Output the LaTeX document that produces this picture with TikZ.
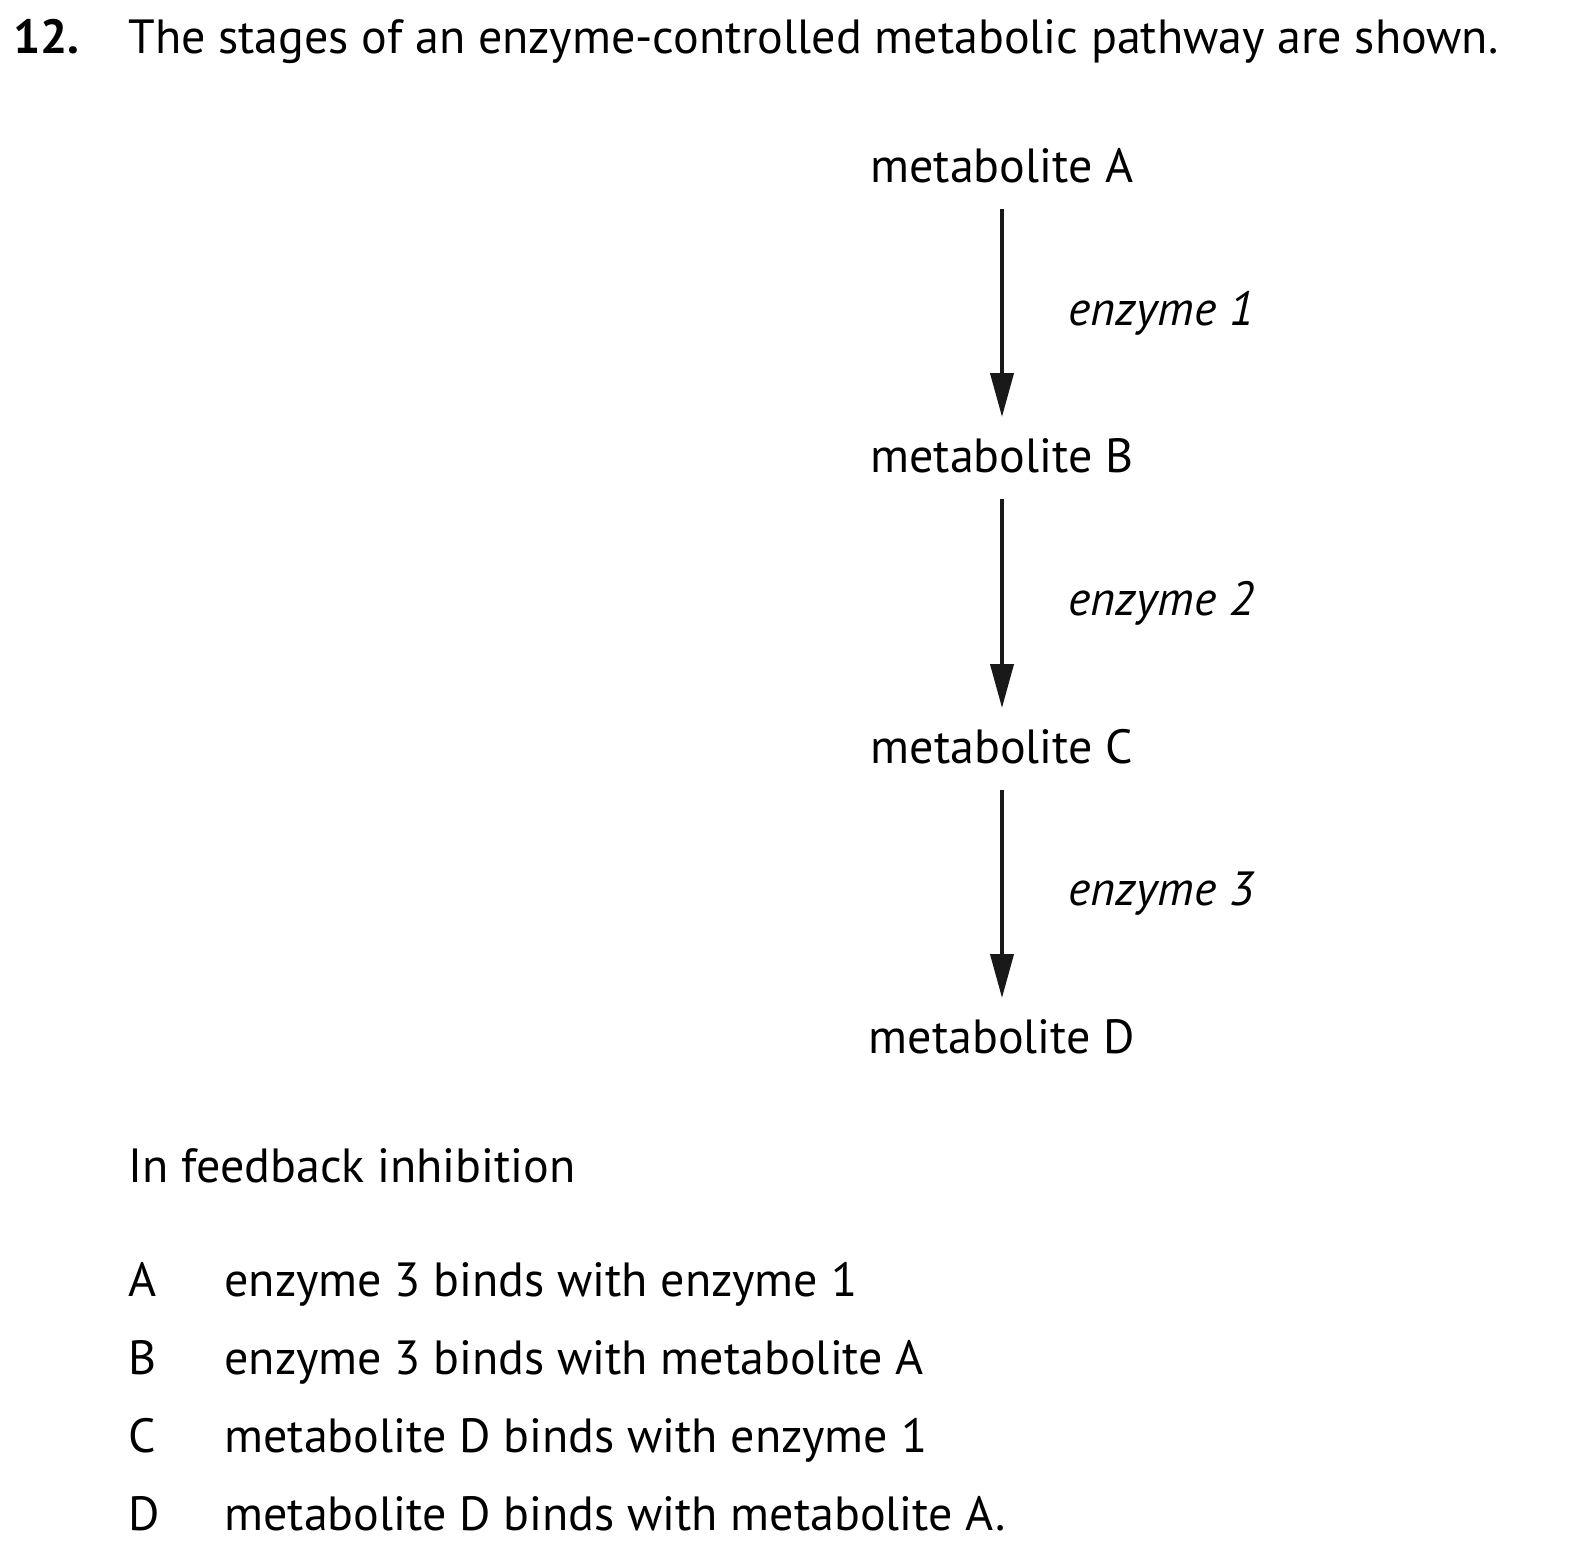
\documentclass[tikz,border=0pt]{standalone}
\usepackage{fontspec}
\setmainfont{PT Sans}
\usetikzlibrary{arrows.meta}
\begin{document}
\begin{tikzpicture}[x=0.5pt, y=-0.5pt, font=\fontsize{24}{28}\selectfont,
  every node/.style={inner sep=0pt, anchor=base west},
  metab/.style={anchor=base},
  step arrow/.style={-{Triangle[width=11.5pt, length=22pt]}, line width=2pt, draw=black!90}]
\useasboundingbox (0,0) rectangle (1570,1555);
\node[font=\fontsize{24}{28}\selectfont\bfseries] (num) at (13,53) {12.};
\node (title) at (128,53) {The stages of an enzyme-controlled metabolic pathway are shown.};

\node[metab] (metA) at (1002,182) {metabolite A};
\node[metab] (metB) at (1002,472) {metabolite B};
\node[metab] (metC) at (1002,763) {metabolite C};
\node[metab] (metD) at (1002,1053) {metabolite D};

\node[font=\fontsize{24}{28}\selectfont\itshape] (enz1) at (1068,325) {enzyme 1};
\node[font=\fontsize{24}{28}\selectfont\itshape] (enz2) at (1068,615) {enzyme 2};
\node[font=\fontsize{24}{28}\selectfont\itshape] (enz3) at (1068,905) {enzyme 3};

\draw[step arrow] ([yshift=-13.5pt]metA.base) -- ([yshift=27.5pt]metB.base);
\draw[step arrow] ([yshift=-13.5pt]metB.base) -- ([yshift=27.5pt]metC.base);
\draw[step arrow] ([yshift=-13.5pt]metC.base) -- ([yshift=27.5pt]metD.base);

\node (stem) at (128,1182) {In feedback inhibition};

\node (optA) at (128,1296) {A};
\node (optB) at (128,1374) {B};
\node (optC) at (128,1452) {C};
\node (optD) at (128,1530) {D};
\node (ansA) at (224,1296) {enzyme 3 binds with enzyme 1};
\node (ansB) at (224,1374) {enzyme 3 binds with metabolite A};
\node (ansC) at (224,1452) {metabolite D binds with enzyme 1};
\node (ansD) at (224,1530) {metabolite D binds with metabolite A.};
\end{tikzpicture}
\end{document}
